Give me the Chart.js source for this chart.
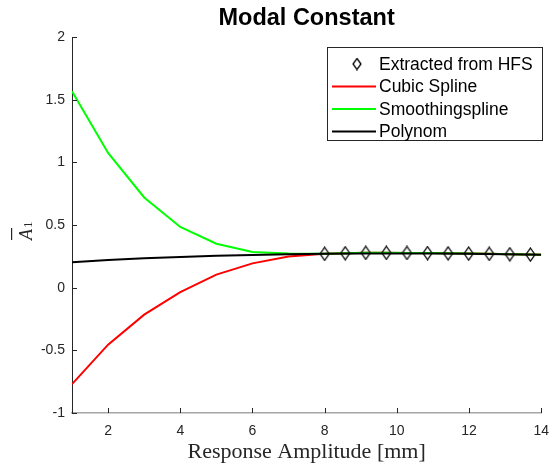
<!DOCTYPE html>
<html>
<head>
<meta charset="utf-8">
<script src="https://cdn.jsdelivr.net/npm/chart.js@4.4.0/dist/chart.umd.min.js"></script>
<style>
  html, body { margin: 0; padding: 0; background: #fff; }
  #wrap { width: 559px; height: 463px; }
</style>
</head>
<body>
<div id="wrap"><canvas id="modalChart"></canvas></div>
<script>
// values
const hfsX = [8, 8.57, 9.14, 9.71, 10.28, 10.85, 11.42, 11.99, 12.56, 13.13, 13.7];
const hfsY = [0.27, 0.275, 0.278, 0.278, 0.277, 0.276, 0.274, 0.272, 0.27, 0.267, 0.264];

const splineX = [1, 2, 3, 4, 5, 6, 7, 8, 8.57, 9.14, 9.71, 10.28, 10.85, 11.42, 11.99, 12.56, 13.13, 13.7, 14];
const cubicY = [-0.77, -0.455, -0.215, -0.035, 0.104, 0.194, 0.248, 0.27, 0.275, 0.278, 0.278, 0.277, 0.276, 0.274, 0.272, 0.27, 0.267, 0.264, 0.262];
const smoothY = [1.567, 1.075, 0.72, 0.484, 0.351, 0.285, 0.272, 0.27, 0.275, 0.278, 0.278, 0.277, 0.276, 0.274, 0.272, 0.27, 0.267, 0.264, 0.262];

const polyX = [1, 2, 3, 4, 5, 6, 7, 8, 9, 10, 11, 12, 13, 14];
const polyY = [0.203, 0.22, 0.234, 0.245, 0.254, 0.261, 0.266, 0.27, 0.272, 0.273, 0.272, 0.27, 0.267, 0.263];

const xTicks = [2, 4, 6, 8, 10, 12, 14];
const yTicks = [-1, -0.5, 0, 0.5, 1, 1.5, 2];

const seriesNames = ['Extracted from HFS', 'Cubic Spline', 'Smoothingspline', 'Polynom'];

const toPts = (xs, ys) => xs.map((x, i) => ({ x: x, y: ys[i] }));

// tall diamond marker like matlab 'd'
function diamond(w, h) {
  const c = document.createElement('canvas');
  c.width = w; c.height = h;
  const g = c.getContext('2d');
  g.strokeStyle = '#000';
  g.lineWidth = 1.3;
  g.beginPath();
  g.moveTo(w / 2, 1);
  g.lineTo(w - 1, h / 2);
  g.lineTo(w / 2, h - 1);
  g.lineTo(1, h / 2);
  g.closePath();
  g.stroke();
  return c;
}
const marker = diamond(11, 15);
const legendMarker = diamond(10, 13);

const decor = {
  id: 'decor',
  afterDraw(chart) {
    const ctx = chart.ctx;
    const xs = chart.scales.x, ys = chart.scales.y;
    const area = chart.chartArea;
    ctx.save();

    // inward ticks
    ctx.strokeStyle = '#262626';
    ctx.lineWidth = 1;
    ctx.beginPath();
    xTicks.forEach(v => {
      const px = Math.round(xs.getPixelForValue(v)) + 0.5;
      ctx.moveTo(px, area.bottom);
      ctx.lineTo(px, area.bottom - 5);
    });
    yTicks.forEach(v => {
      const py = Math.round(ys.getPixelForValue(v)) + 0.5;
      ctx.moveTo(area.left, py);
      ctx.lineTo(area.left + 5, py);
    });
    ctx.stroke();

    // title
    ctx.fillStyle = '#000';
    ctx.font = 'bold 23.5px "Liberation Sans", Arial, sans-serif';
    ctx.textAlign = 'center';
    ctx.textBaseline = 'middle';
    ctx.fillText('Modal Constant', (area.left + area.right) / 2, 19);

    // x label
    ctx.fillStyle = '#262626';
    ctx.font = '22px "Liberation Serif", "Times New Roman", serif';
    ctx.textBaseline = 'alphabetic';
    ctx.fillText('Response Amplitude [mm]', (area.left + area.right) / 2, 458);

    // y label: A with overline and subscript 1
    ctx.save();
    ctx.translate(32, 240);
    ctx.rotate(-Math.PI / 2);
    ctx.textAlign = 'left';
    ctx.font = 'italic 18px "Liberation Serif", "Times New Roman", serif';
    ctx.fillText('A', 0, 0);
    const aw = ctx.measureText('A').width;
    ctx.fillRect(0, -21, aw + 1, 1.2);
    ctx.font = '13px "Liberation Serif", "Times New Roman", serif';
    ctx.fillText('1', aw + 1, 0);
    ctx.restore();

    // legend box
    const bx = 327.5, by = 47.5, bw = 215, bh = 93;
    ctx.fillStyle = '#fff';
    ctx.fillRect(bx, by, bw, bh);
    ctx.strokeStyle = '#262626';
    ctx.lineWidth = 1;
    ctx.strokeRect(bx, by, bw, bh);
    ctx.font = '17.5px "Liberation Sans", Arial, sans-serif';
    ctx.textAlign = 'left';
    ctx.textBaseline = 'middle';
    const rows = [64, 86.5, 109, 131.5];
    chart.data.datasets.forEach((ds, i) => {
      const ry = rows[i];
      if (i === 0) {
        ctx.drawImage(legendMarker, 357 - legendMarker.width / 2, ry - legendMarker.height / 2);
      } else {
        ctx.strokeStyle = ds.borderColor;
        ctx.lineWidth = 2;
        ctx.beginPath();
        ctx.moveTo(332, ry);
        ctx.lineTo(376, ry);
        ctx.stroke();
      }
      ctx.fillStyle = '#000';
      ctx.fillText(ds.label, 379, ry + 1);
    });
    ctx.restore();
  }
};

const ctx = document.getElementById('modalChart').getContext('2d');
new Chart(ctx, {
  type: 'line',
  data: {
    datasets: [
      {
        label: seriesNames[0],
        data: toPts(hfsX, hfsY),
        showLine: false,
        pointStyle: marker,
        pointRadius: 6,
        borderColor: '#000',
        backgroundColor: 'rgba(0,0,0,0)',
        order: 0
      },
      {
        label: seriesNames[1],
        data: toPts(splineX, cubicY),
        borderColor: '#ff0000',
        borderWidth: 2,
        pointRadius: 0,
        tension: 0,
        order: 3
      },
      {
        label: seriesNames[2],
        data: toPts(splineX, smoothY),
        borderColor: '#00ff00',
        borderWidth: 2,
        pointRadius: 0,
        tension: 0,
        order: 2
      },
      {
        label: seriesNames[3],
        data: toPts(polyX, polyY),
        borderColor: '#000000',
        borderWidth: 2,
        pointRadius: 0,
        tension: 0,
        order: 1
      }
    ]
  },
  options: {
    responsive: true,
    maintainAspectRatio: false,
    animation: false,
    layout: { padding: { top: 37, right: 8, left: 0, bottom: 0 } },
    plugins: {
      legend: { display: false },
      title: { display: false },
      tooltip: { enabled: false }
    },
    scales: {
      x: {
        type: 'linear',
        min: 1,
        max: 14,
        afterBuildTicks: s => { s.ticks = xTicks.map(v => ({ value: v })); },
        afterFit: s => { s.height = 50; },
        grid: { display: false, drawTicks: false },
        border: { display: true, color: '#a6a6a6', width: 1.5 },
        ticks: {
          padding: 10,
          color: '#262626',
          font: { family: '"Liberation Sans", Arial, sans-serif', size: 14 },
          maxRotation: 0
        }
      },
      y: {
        type: 'linear',
        min: -1,
        max: 2,
        afterBuildTicks: s => { s.ticks = yTicks.map(v => ({ value: v })); },
        afterFit: s => { s.width = 72; },
        grid: { display: false, drawTicks: false },
        border: { display: true, color: '#262626', width: 1 },
        ticks: {
          padding: 7,
          color: '#262626',
          font: { family: '"Liberation Sans", Arial, sans-serif', size: 14 },
          callback: v => String(v)
        }
      }
    }
  },
  plugins: [decor]
});
</script>
</body>
</html>
